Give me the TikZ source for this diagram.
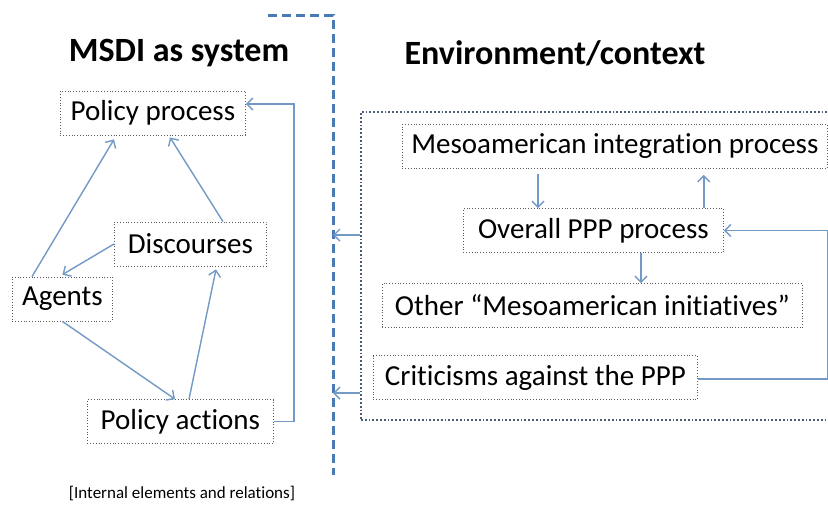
\documentclass[tikz,border=0pt]{standalone}
\usepackage{fontspec}
\setmainfont{Carlito}[Ligatures={NoCommon}]
\usepackage{tikz}
\usetikzlibrary{arrows.meta, positioning}
\definecolor{linkblue}{HTML}{7399C6}
\definecolor{barblue}{HTML}{4A7AB5}
\definecolor{framegray}{HTML}{4A5D75}

\begin{document}
\begin{tikzpicture}[x=0.5pt, y=-0.5pt,
    elem/.style={draw=black!65, densely dotted, line width=0.4pt, anchor=west,
      inner sep=0pt, minimum height=22pt, font=\fontsize{14.5}{17}\selectfont},
    link/.style={draw=linkblue, line width=0.7pt, -{Straight Barb[length=3pt,width=6pt]}},
    heading/.style={font=\fontsize{17}{20}\selectfont\bfseries},
    envframe/.style={draw=framegray, densely dotted, line width=0.9pt, inner sep=0pt},
    bar/.style={draw=barblue, line width=1.5pt, dash pattern=on 4.5pt off 2.5pt},
  ]
    \fill[white] (0,0) rectangle (828,505);
    \clip (0,0) rectangle (828,505);

    % Headings over both halves
    \node[heading] (systitle) at (179,53) {MSDI as system};
    \node[heading] (envtitle) at (555,53) {Environment/context};

    % Dashed boundary between system and context
    \coordinate (barstart) at (268,15);
    \coordinate (bartop) at (333,15);
    \coordinate (barbot) at (333,475);
    \draw[bar] (barstart) -- (bartop) -- (barbot);

    % MSDI elements on the left
    \node[elem, minimum width=92.5pt] (policy) at (60,113) {Policy process};
    \node[elem, minimum width=76pt] (disc) at (114,244) {Discourses};
    \node[elem, minimum width=50pt] (agents) at (12,299) {Agents};
    \node[elem, minimum width=93pt] (actions) at (87,421.5) {Policy actions};
    \node[font=\fontsize{8.5}{10}\selectfont] (note) at (182,493) {[Internal elements and relations]};

    \draw[link] ([xshift=10pt]agents.north west) -- ([xshift=27pt,yshift=-2pt]policy.south west);
    \draw[link] ([xshift=54.5pt]disc.north west) -- ([xshift=55pt,yshift=-1pt]policy.south west);
    \draw[link] (disc.west) -- ([yshift=1pt]agents.north);
    \draw[link] (agents.south) -- ([xshift=44pt]actions.north west);
    \draw[link] ([xshift=51pt]actions.north west) -- ([xshift=51pt,yshift=-1.5pt]disc.south west);
    \draw[link] (actions.east) -- ++(10pt,0) |- ([yshift=4.5pt]policy.east);

    % Context on the right
    \node[envframe, anchor=north west, minimum width=240pt, minimum height=154pt] (env) at (360,111) {};
    \node[elem, minimum width=212.5pt] (meso) at (402,146.5) {Mesoamerican integration process};
    \node[elem, minimum width=130pt] (overall) at (463,230.5) {Overall PPP process};
    \node[elem, minimum width=210pt] (other) at (382,305.5) {Other “Mesoamerican initiatives”};
    \node[elem, minimum width=162pt] (crit) at (373,377.5) {Criticisms against the PPP};

    \draw[link, shorten <=2.5pt] ([xshift=68pt]meso.south west) -- ([xshift=68pt]meso.south west |- overall.north);
    \draw[link, shorten >=3pt] ([xshift=-10pt]overall.north east) -- ([xshift=-10pt]overall.north east |- meso.south);
    \draw[link] ([xshift=89pt]overall.south west) -- ([xshift=89pt]overall.south west |- other.north);
    \draw[link] ([yshift=-0.75pt]crit.east) -- ++(65pt,0) |- (overall.east);

    % influence of the context on the system
    \coordinate (inA) at (360,235);
    \coordinate (inB) at (360,393);
    \draw[link] (inA) -- (bartop |- inA);
    \draw[link] (inB) -- (bartop |- inB);

\end{tikzpicture}
\end{document}
